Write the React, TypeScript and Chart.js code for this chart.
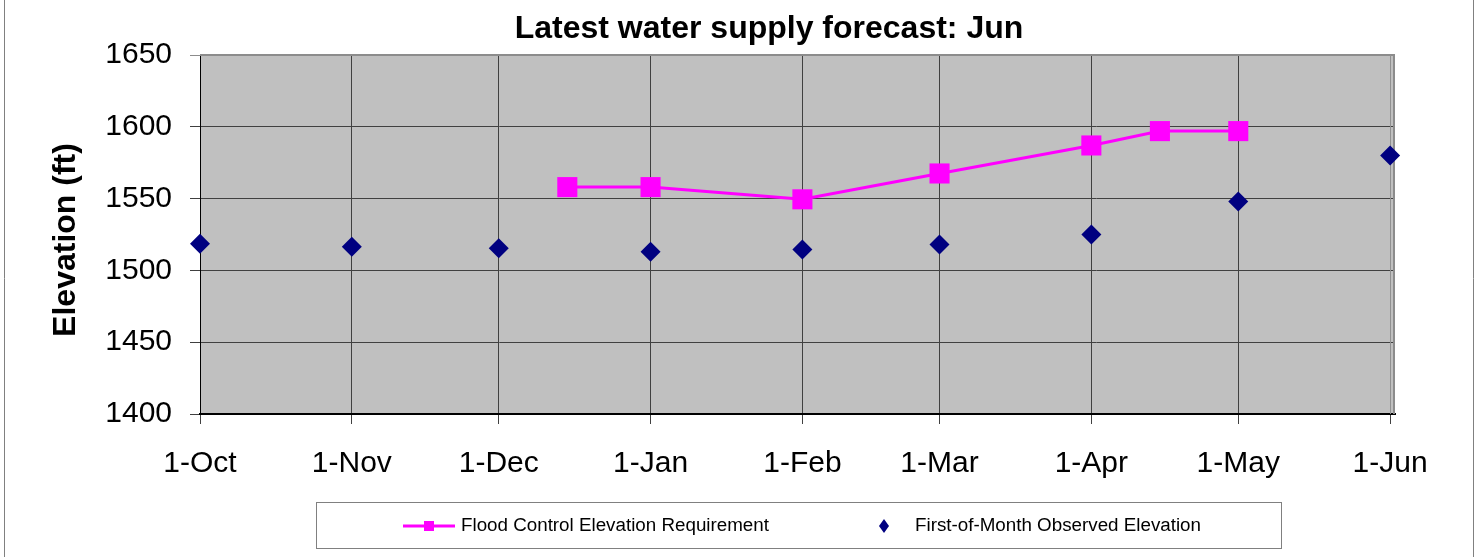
import React, { useEffect, useRef } from "react";
import { Chart, registerables } from "chart.js";

Chart.register(...registerables);

// ---- data ----
const monthStartDays = [0, 31, 61, 92, 123, 151, 182, 212, 243];
const monthLabels = ["1-Oct", "1-Nov", "1-Dec", "1-Jan", "1-Feb", "1-Mar", "1-Apr", "1-May", "1-Jun"];
const floodDays = [75, 92, 123, 151, 182, 196, 212];
const floodValues = [1558, 1558, 1549.5, 1567.5, 1587, 1597, 1597];
const observedDays = [0, 31, 61, 92, 123, 151, 182, 212, 243];
const observedValues = [1518.5, 1516.5, 1515.5, 1513, 1514.5, 1518, 1525, 1548, 1580];
const yTickValues = [1400, 1450, 1500, 1550, 1600, 1650];
const titleText = "Latest water supply forecast: Jun";
const yTitleText = "Elevation (ft)";
const floodLabel = "Flood Control Elevation Requirement";
const observedLabel = "First-of-Month Observed Elevation";

const W = 1479;
const H = 557;
const FONT = "'Liberation Sans', Arial, sans-serif";
const MAGENTA = "#FF00FF";
const NAVY = "#000080";

const decorPlugin = {
  id: "decor",
  beforeDraw(chart: any) {
    const { ctx, chartArea } = chart;
    ctx.save();
    ctx.fillStyle = "#ffffff";
    ctx.fillRect(0, 0, W, H);
    ctx.fillStyle = "#C0C0C0";
    ctx.fillRect(chartArea.left, chartArea.top, chartArea.right - chartArea.left, chartArea.bottom - chartArea.top);
    ctx.restore();
  },
  beforeDatasetsDraw(chart: any) {
    const { ctx, chartArea } = chart;
    ctx.save();
    // plot border top/right (gray)
    ctx.strokeStyle = "#8c8c8c";
    ctx.lineWidth = 2;
    ctx.beginPath();
    ctx.moveTo(chartArea.left, chartArea.top);
    ctx.lineTo(chartArea.right - 1, chartArea.top);
    ctx.lineTo(chartArea.right - 1, chartArea.bottom);
    ctx.stroke();
    ctx.lineWidth = 1;
    ctx.strokeStyle = "#909090";
    ctx.beginPath();
    ctx.moveTo(chartArea.right - 4.5, chartArea.top);
    ctx.lineTo(chartArea.right - 4.5, chartArea.bottom);
    ctx.stroke();
    ctx.restore();
  },
  afterDraw(chart: any) {
    const { ctx } = chart;
    ctx.save();
    // outer frame
    ctx.strokeStyle = "#808080";
    ctx.lineWidth = 1;
    ctx.beginPath();
    ctx.moveTo(4.5, 0);
    ctx.lineTo(4.5, H);
    ctx.moveTo(1473.5, 0);
    ctx.lineTo(1473.5, H);
    ctx.stroke();

    // title
    ctx.fillStyle = "#000";
    ctx.font = `bold 32px ${FONT}`;
    ctx.textAlign = "center";
    ctx.textBaseline = "alphabetic";
    ctx.fillText(titleText, 769, 38);

    // y axis title
    ctx.save();
    ctx.translate(75, 240);
    ctx.rotate(-Math.PI / 2);
    ctx.font = `bold 32px ${FONT}`;
    ctx.textAlign = "center";
    ctx.textBaseline = "alphabetic";
    ctx.fillText(yTitleText, 0, 0);
    ctx.restore();

    // legend
    ctx.strokeStyle = "#808080";
    ctx.lineWidth = 1;
    ctx.strokeRect(316.5, 502.5, 965, 46);
    const ly = 526;
    ctx.strokeStyle = MAGENTA;
    ctx.lineWidth = 3;
    ctx.beginPath();
    ctx.moveTo(403, ly);
    ctx.lineTo(455, ly);
    ctx.stroke();
    ctx.fillStyle = MAGENTA;
    ctx.fillRect(424, ly - 5, 10, 10);
    ctx.fillStyle = NAVY;
    ctx.beginPath();
    ctx.moveTo(884, ly - 7);
    ctx.lineTo(889, ly);
    ctx.lineTo(884, ly + 7);
    ctx.lineTo(879, ly);
    ctx.closePath();
    ctx.fill();
    ctx.fillStyle = "#000";
    ctx.font = `18.8px ${FONT}`;
    ctx.textAlign = "left";
    ctx.textBaseline = "middle";
    ctx.fillText(floodLabel, 461, ly);
    ctx.fillText(observedLabel, 915, ly);
    ctx.restore();
  },
};

export default function App() {
  const ref = useRef<HTMLCanvasElement | null>(null);
  useEffect(() => {
    if (!ref.current) return;
    const chart = new Chart(ref.current, {
      type: "scatter",
      data: {
        datasets: [
          {
            label: floodLabel,
            data: floodDays.map((d, i) => ({ x: d, y: floodValues[i] })),
            showLine: true,
            clip: false,
            borderColor: MAGENTA,
            backgroundColor: MAGENTA,
            borderWidth: 3,
            pointStyle: "rect",
            pointRadius: 14.2,
            pointBorderWidth: 0,
            pointBackgroundColor: MAGENTA,
            order: 1,
          },
          {
            label: observedLabel,
            data: observedDays.map((d, i) => ({ x: d, y: observedValues[i] })),
            showLine: false,
            clip: false,
            borderColor: NAVY,
            backgroundColor: NAVY,
            pointStyle: "rectRot",
            pointRadius: 10,
            pointBorderWidth: 0,
            pointBackgroundColor: NAVY,
            order: 2,
          },
        ],
      },
      options: {
        responsive: false,
        devicePixelRatio: 1,
        animation: false,
        events: [],
        layout: { padding: { left: 0, top: 55, right: 84, bottom: 0 } },
        plugins: {
          legend: { display: false },
          title: { display: false },
          tooltip: { enabled: false },
        },
        scales: {
          x: {
            type: "linear",
            min: 0,
            max: 244,
            afterBuildTicks: (s: any) => {
              s.ticks = monthStartDays.map((v) => ({ value: v }));
            },
            afterFit: (s: any) => {
              s.height = H - 414;
            },
            ticks: {
              autoSkip: false,
              maxRotation: 0,
              padding: 22,
              color: "#000",
              font: { family: FONT, size: 30 },
              callback: (_v: any, i: number) => monthLabels[i],
            },
            grid: { color: "#404040", lineWidth: 1, tickLength: 10 },
            border: { color: "#000", width: 2 },
          },
          y: {
            type: "linear",
            min: 1400,
            max: 1650,
            afterBuildTicks: (s: any) => {
              s.ticks = yTickValues.map((v) => ({ value: v }));
            },
            afterFit: (s: any) => {
              s.width = 200;
            },
            ticks: {
              padding: 18,
              color: "#000",
              font: { family: FONT, size: 30 },
              callback: (v: any) => String(v),
            },
            grid: {
              color: (c: any) => (c.tick && c.tick.value === 1650 ? "#8c8c8c" : "#404040"),
              lineWidth: 1,
              tickLength: 10,
            },
            border: { color: "#000", width: 1 },
          },
        },
      } as any,
      plugins: [decorPlugin],
    });
    return () => chart.destroy();
  }, []);
  return (
    <div style={{ position: "absolute", left: 0, top: 0, width: W, height: H, background: "#fff" }}>
      <canvas ref={ref} width={W} height={H} style={{ display: "block", width: W, height: H }} />
    </div>
  );
}
